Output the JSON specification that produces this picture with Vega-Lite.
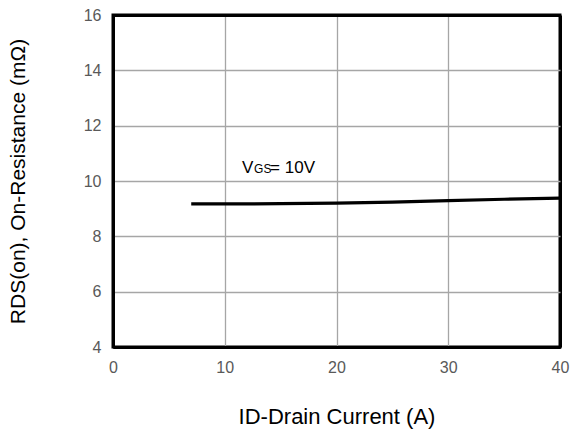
{
  "$schema": "https://vega.github.io/schema/vega-lite/v6.json",
  "width": 447,
  "height": 332,
  "autosize": "none",
  "padding": {"left": 113, "top": 15, "right": 10, "bottom": 87},
  "background": "white",
  "view": {"stroke": "black", "strokeWidth": 3},
  "config": {
    "font": "Liberation Sans"
  },
  "datasets": {
    "curve": [
      {"id": 7, "r": 9.17},
      {"id": 10, "r": 9.17},
      {"id": 15, "r": 9.18},
      {"id": 20, "r": 9.2},
      {"id": 25, "r": 9.24},
      {"id": 30, "r": 9.29},
      {"id": 35, "r": 9.34},
      {"id": 40, "r": 9.38}
    ],
    "label": [{"id": 11.55, "r": 10.3}]
  },
  "layer": [
    {
      "data": {"name": "curve"},
      "mark": {"type": "line", "color": "black", "strokeWidth": 3.2},
      "encoding": {
        "x": {
          "field": "id", "type": "quantitative",
          "scale": {"domain": [0, 40], "nice": false},
          "axis": {
            "values": [0, 10, 20, 30, 40],
            "title": "ID-Drain Current (A)",
            "titleFontSize": 22, "titleFontWeight": "normal", "titleColor": "black",
            "titlePadding": 31,
            "labelFontSize": 16, "labelColor": "#595959", "labelPadding": 12,
            "labelFlush": false,
            "ticks": false, "domain": true, "domainColor": "black", "domainWidth": 3,
            "grid": true,
            "gridColor": {"condition": {"test": "datum.value == 40 || datum.value == 0", "value": "black"}, "value": "#a6a6a6"},
            "gridWidth": {"condition": {"test": "datum.value == 40 || datum.value == 0", "value": 3}, "value": 1.3}
          }
        },
        "y": {
          "field": "r", "type": "quantitative",
          "scale": {"domain": [4, 16], "nice": false, "zero": false},
          "axis": {
            "values": [4, 6, 8, 10, 12, 14, 16],
            "title": "RDS(on), On-Resistance (mΩ)",
            "titleFontSize": 21, "titleFontWeight": "normal", "titleColor": "black",
            "titlePadding": 55,
            "labelFontSize": 16, "labelColor": "#595959", "labelPadding": 12,
            "labelFlush": false,
            "ticks": false, "domain": true, "domainColor": "black", "domainWidth": 3,
            "grid": true,
            "gridColor": {"condition": {"test": "datum.value == 16 || datum.value == 4", "value": "black"}, "value": "#a6a6a6"},
            "gridWidth": {"condition": {"test": "datum.value == 16 || datum.value == 4", "value": 3}, "value": 1.3}
          }
        }
      }
    },
    {
      "data": {"name": "label"},
      "mark": {"type": "text", "text": "V", "align": "left", "baseline": "alphabetic", "fontSize": 17, "color": "black"},
      "encoding": {
        "x": {"field": "id", "type": "quantitative"},
        "y": {"field": "r", "type": "quantitative"}
      }
    },
    {
      "data": {"name": "label"},
      "mark": {"type": "text", "text": "GS", "align": "left", "baseline": "alphabetic", "fontSize": 12, "dx": 12, "color": "black"},
      "encoding": {
        "x": {"field": "id", "type": "quantitative"},
        "y": {"field": "r", "type": "quantitative"}
      }
    },
    {
      "data": {"name": "label"},
      "mark": {"type": "text", "text": "= 10V", "align": "left", "baseline": "alphabetic", "fontSize": 17, "dx": 28, "color": "black"},
      "encoding": {
        "x": {"field": "id", "type": "quantitative"},
        "y": {"field": "r", "type": "quantitative"}
      }
    }
  ]
}
